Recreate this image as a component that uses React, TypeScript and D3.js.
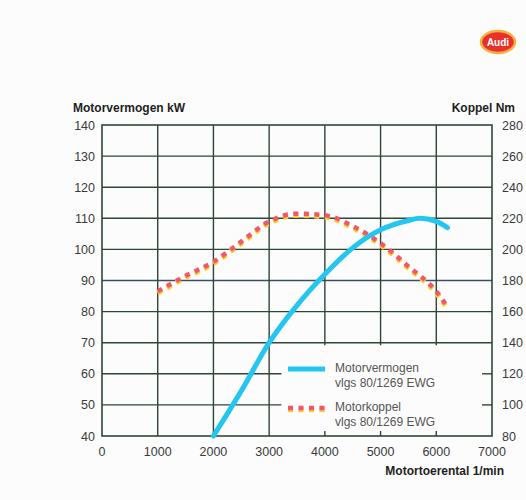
import React, { useEffect, useRef } from 'react';
import * as d3 from 'd3';

// Motorvermogen (kW) vs toerental
const powerRpm = [2000, 2500, 3000, 3500, 4000, 4500, 5000, 5500, 5700, 6000, 6200];
const powerKw = [40, 54.5, 70, 82, 92, 100.5, 106.3, 109.3, 110, 109, 107];

// Motorkoppel (Nm) vs toerental
const torqueRpm = [1000, 1500, 2000, 2500, 3000, 3500, 4000, 4500, 5000, 5500, 6000, 6200];
const torqueNm = [173, 183, 192, 205, 218, 223, 222, 215, 204, 189, 173, 163];

const rpmTicks = [0, 1000, 2000, 3000, 4000, 5000, 6000, 7000];
const kwTicks = [40, 50, 60, 70, 80, 90, 100, 110, 120, 130, 140];
const nmTicks = [80, 100, 120, 140, 160, 180, 200, 220, 240, 260, 280];

const legendItems = [
    { name: 'Motorvermogen', sub: 'vlgs 80/1269 EWG', type: 'power' },
    { name: 'Motorkoppel', sub: 'vlgs 80/1269 EWG', type: 'torque' },
];

const W = 526;
const H = 500;

const App = () => {
    const svgRef = useRef(null);

    useEffect(() => {
        const svg = d3.select(svgRef.current);
        svg.selectAll('*').remove();

        const left = 102, right = 492, top = 125, bottom = 436;
        const font = 'Liberation Sans, Arial, sans-serif';
        const gridColor = '#2e4636';
        const textColor = '#3a3a3a';

        const x = d3.scaleLinear().domain([0, 7000]).range([left, right]);
        const yKw = d3.scaleLinear().domain([40, 140]).range([bottom, top]);
        const yNm = d3.scaleLinear().domain([80, 280]).range([bottom, top]);

        svg.append('rect').attr('width', W).attr('height', H).style('fill', '#fcfcfc');

        // Grid
        const g = svg.append('g');
        g.selectAll('.hline')
            .data(kwTicks.slice(1, -1))
            .enter()
            .append('line')
            .attr('x1', left)
            .attr('x2', right)
            .attr('y1', d => yKw(d))
            .attr('y2', d => yKw(d))
            .style('stroke', d => (d === 90 ? '#3d4d68' : gridColor))
            .style('stroke-width', 1.4);

        g.selectAll('.vline')
            .data(rpmTicks.slice(1, -1))
            .enter()
            .append('line')
            .attr('x1', d => x(d))
            .attr('x2', d => x(d))
            .attr('y1', top)
            .attr('y2', bottom)
            .style('stroke', gridColor)
            .style('stroke-width', 1.4);

        // Legend box covers the grid in the lower right
        const lx0 = x(3220), lx1 = right - 1, ly0 = yKw(69.2), ly1 = bottom - 1;
        svg.append('rect')
            .attr('x', lx0)
            .attr('y', ly0)
            .attr('width', lx1 - lx0)
            .attr('height', ly1 - ly0)
            .style('fill', '#fcfcfc');

        // small ticks left over inside the legend area
        [50, 60].forEach(v => {
            svg.append('line')
                .attr('x1', right - 10).attr('x2', right)
                .attr('y1', yKw(v)).attr('y2', yKw(v))
                .style('stroke', gridColor).style('stroke-width', 1.4);
        });
        [4000, 5000, 6000].forEach(v => {
            svg.append('line')
                .attr('x1', x(v)).attr('x2', x(v))
                .attr('y1', bottom - 5).attr('y2', bottom)
                .style('stroke', gridColor).style('stroke-width', 1.4);
        });

        // Frame
        svg.append('rect')
            .attr('x', left)
            .attr('y', top)
            .attr('width', right - left)
            .attr('height', bottom - top)
            .style('fill', 'none')
            .style('stroke', gridColor)
            .style('stroke-width', 1.6);

        // Tick labels
        svg.selectAll('.kwLabel')
            .data(kwTicks)
            .enter()
            .append('text')
            .attr('x', left - 7)
            .attr('y', d => yKw(d) + 4.5)
            .attr('text-anchor', 'end')
            .style('font-family', font)
            .style('font-size', '12.5px')
            .style('fill', textColor)
            .text(d => d);

        svg.selectAll('.nmLabel')
            .data(nmTicks)
            .enter()
            .append('text')
            .attr('x', right + 10)
            .attr('y', d => yNm(d) + 4.5)
            .style('font-family', font)
            .style('font-size', '12.5px')
            .style('fill', textColor)
            .text(d => d);

        svg.selectAll('.rpmLabel')
            .data(rpmTicks)
            .enter()
            .append('text')
            .attr('x', d => x(d))
            .attr('y', bottom + 20)
            .attr('text-anchor', 'middle')
            .style('font-family', font)
            .style('font-size', '12.5px')
            .style('fill', textColor)
            .text(d => d);

        // Axis titles
        const title = (tx, ty, anchor, label) =>
            svg.append('text')
                .attr('x', tx)
                .attr('y', ty)
                .attr('text-anchor', anchor)
                .style('font-family', font)
                .style('font-size', '12px')
                .style('font-weight', 'bold')
                .style('fill', '#1e1e1e')
                .text(label);
        title(73, 112, 'start', 'Motorvermogen kW');
        title(515, 112, 'end', 'Koppel Nm');
        title(504, 475, 'end', 'Motortoerental 1/min');

        // Lines
        const powerLine = d3.line()
            .x(d => x(d[0]))
            .y(d => yKw(d[1]))
            .curve(d3.curveMonotoneX);
        const torqueLine = d3.line()
            .x(d => x(d[0]))
            .y(d => yNm(d[1]))
            .curve(d3.curveMonotoneX);

        const torqueData = torqueRpm.map((r, i) => [r, torqueNm[i]]);
        const powerData = powerRpm.map((r, i) => [r, powerKw[i]]);

        const drawDots = (sel, path) => {
            sel.append('path')
                .attr('d', path)
                .attr('transform', 'translate(0,1.8)')
                .style('fill', 'none')
                .style('stroke', '#f6cf2a')
                .style('stroke-width', 5)
                .style('stroke-dasharray', '5,5.5');
            sel.append('path')
                .attr('d', path)
                .style('fill', 'none')
                .style('stroke', '#f2566c')
                .style('stroke-width', 4.5)
                .style('stroke-dasharray', '5,5.5');
        };

        drawDots(svg.append('g'), torqueLine(torqueData));

        svg.append('path')
            .attr('d', powerLine(powerData))
            .style('fill', 'none')
            .style('stroke', '#22c6ef')
            .style('stroke-width', 5)
            .style('stroke-linecap', 'round');

        // Legend
        const lg = svg.append('g');
        legendItems.forEach((item, i) => {
            const cy = 369 + i * 39;
            if (item.type === 'power') {
                lg.append('line')
                    .attr('x1', 288).attr('x2', 325)
                    .attr('y1', cy).attr('y2', cy)
                    .style('stroke', '#22c6ef')
                    .style('stroke-width', 5);
            } else {
                drawDots(lg, `M288,${cy}L326,${cy}`);
            }
            lg.append('text')
                .attr('x', 335)
                .attr('y', cy + 3)
                .style('font-family', font)
                .style('font-size', '12px')
                .style('fill', '#555')
                .text(item.name);
            lg.append('text')
                .attr('x', 335)
                .attr('y', cy + 18)
                .style('font-family', font)
                .style('font-size', '12px')
                .style('fill', '#555')
                .text(item.sub);
        });

        // Audi badge
        const logo = svg.append('g').attr('transform', 'translate(498,42)');
        logo.append('ellipse')
            .attr('rx', 17).attr('ry', 11)
            .style('fill', '#e8302c')
            .style('stroke', '#f6b13c')
            .style('stroke-width', 2.5);
        logo.append('text')
            .attr('y', 3.5)
            .attr('text-anchor', 'middle')
            .style('font-family', font)
            .style('font-size', '10px')
            .style('font-weight', 'bold')
            .style('fill', '#fff')
            .text('Audi');
    }, []);

    return (
        <svg
            ref={svgRef}
            width={W}
            height={H}
            style={{ position: 'absolute', left: 0, top: 0 }}
        ></svg>
    );
};

export default App;
